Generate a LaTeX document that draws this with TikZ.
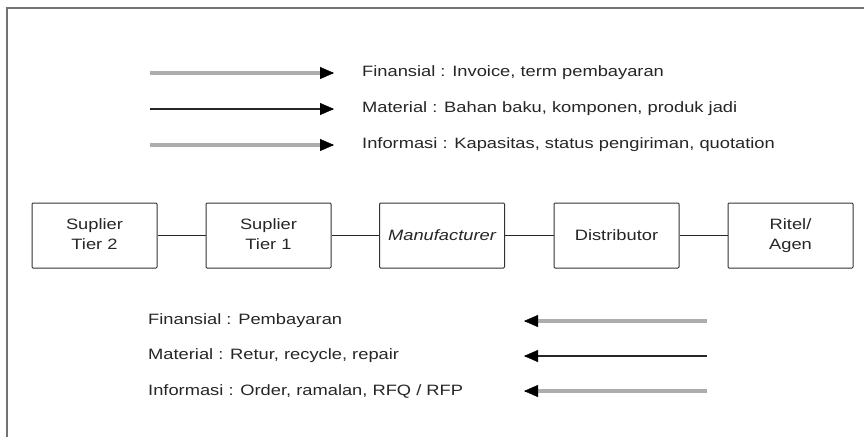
\documentclass[tikz,border=0pt]{standalone}
\usepackage{fontspec}
\usepackage{graphicx}
\setmainfont{Liberation Sans}
\usetikzlibrary{arrows.meta}
\newcommand{\wx}[1]{\scalebox{1.22}[1]{#1}}
\begin{document}
\begin{tikzpicture}[x=1pt,y=-1pt,
  box/.style={draw=black!80, line width=1pt, rounded corners=1pt, minimum width=125pt, minimum height=65pt, align=center, font=\fontsize{15}{21}\selectfont, inner sep=0pt, text=black!85},
  lbl/.style={anchor=west, font=\fontsize{15}{18}\selectfont, inner sep=0pt, text=black!85},
  grayline/.style={draw=black!32, line width=4pt, shorten >=9pt},
  blackline/.style={draw=black!85, line width=1.4pt, shorten >=9pt},
  head/.style={black, -{Triangle[length=14pt,width=12pt]}, line width=0.4pt},
  link/.style={draw=black!85, line width=1pt}
]
\useasboundingbox (0,0) rectangle (864,437);
\fill[white] (0,0) rectangle (864,437);
% frame
\draw[black!55, line width=2.2pt] (7,437) -- (7,8) -- (864,8);

% top legend
\coordinate (a1s) at (150,73);  \coordinate (a1e) at (334,73);
\coordinate (a2s) at (150,109); \coordinate (a2e) at (334,109);
\coordinate (a3s) at (150,145); \coordinate (a3e) at (334,145);
\draw[grayline] (a1s) -- (a1e);
\draw[blackline] (a2s) -- (a2e);
\draw[grayline] (a3s) -- (a3e);
\draw[head] ([xshift=-1pt]a1e) -- (a1e);
\draw[head] ([xshift=-1pt]a2e) -- (a2e);
\draw[head] ([xshift=-1pt]a3e) -- (a3e);
\node[lbl] (t1) at (362,73) {\wx{Finansial : Invoice, term pembayaran}};
\node[lbl] (t2) at (362,109) {\wx{Material : Bahan baku, komponen, produk jadi}};
\node[lbl] (t3) at (362,145) {\wx{Informasi : Kapasitas, status pengiriman, quotation}};

% boxes
\node[box] (s2) at (94.5,235.5) {\wx{\begin{tabular}{@{}c@{}}Suplier\\[-1pt]Tier 2\end{tabular}}};
\node[box] (s1) at (268.5,235.5) {\wx{\begin{tabular}{@{}c@{}}Suplier\\[-1pt]Tier 1\end{tabular}}};
\node[box] (m) at (442,235.5) {\wx{\itshape Manufacturer}};
\node[box] (d) at (616.5,235.5) {\wx{Distributor}};
\node[box] (r) at (790.5,235.5) {\wx{\begin{tabular}{@{}c@{}}Ritel/\\[-1pt]Agen\end{tabular}}};
\draw[link] (s2) -- (s1);
\draw[link] (s1) -- (m);
\draw[link] (m) -- (d);
\draw[link] (d) -- (r);

% bottom legend
\node[lbl] (b1) at (148,321) {\wx{Finansial : Pembayaran}};
\node[lbl] (b2) at (148,356) {\wx{Material : Retur, recycle, repair}};
\node[lbl] (b3) at (148,391) {\wx{Informasi : Order, ramalan, RFQ / RFP}};
\coordinate (c1s) at (707,321); \coordinate (c1e) at (524,321);
\coordinate (c2s) at (707,356); \coordinate (c2e) at (524,356);
\coordinate (c3s) at (707,391); \coordinate (c3e) at (524,391);
\draw[grayline] (c1s) -- (c1e);
\draw[blackline] (c2s) -- (c2e);
\draw[grayline] (c3s) -- (c3e);
\draw[head] ([xshift=1pt]c1e) -- (c1e);
\draw[head] ([xshift=1pt]c2e) -- (c2e);
\draw[head] ([xshift=1pt]c3e) -- (c3e);
\end{tikzpicture}
\end{document}
